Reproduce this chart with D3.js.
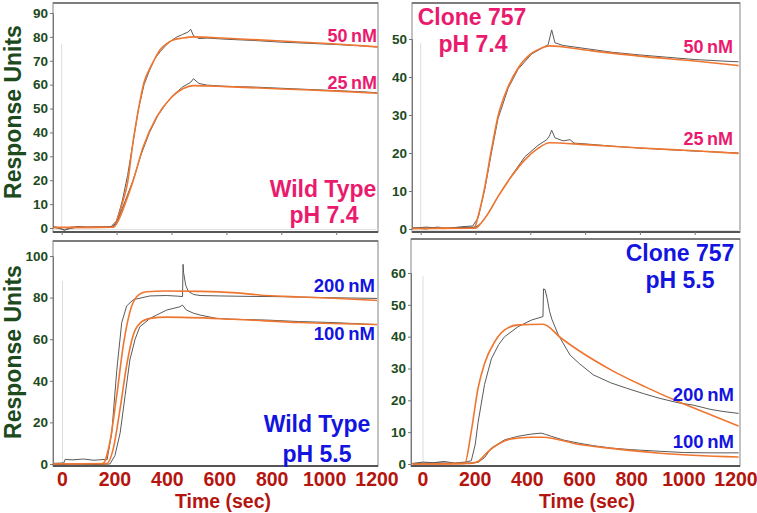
<!DOCTYPE html>
<html><head><meta charset="utf-8">
<script src="https://cdn.jsdelivr.net/npm/d3@7"></script>
<style>
html,body{margin:0;padding:0;background:#fff;}
svg{display:block;font-family:Arial,"Liberation Sans",sans-serif;}
</style></head>
<body>
<svg id="c" width="757" height="513"></svg>
<script>
// ---------- DATA ----------
// Wild Type pH 7.4 (top-left)
const tlTime50Obs = [-30,-10,10,30,60,90,120,150,180,200,220,240,260,280,300,320,340,360,380,400,420,440,460,470,480,500,530,600,700,800,900,1000,1100,1150];
const tlVal50Obs  = [0.5,0.2,-1.0,0.3,0.6,0.2,0.5,0.4,0.6,3,11,22,36,50,60,66,71,74,76.5,78.5,80,81,82,83.2,80.5,79.3,79.5,79,78.5,77.8,77.3,76.8,76.2,75.8];
const tlTime50Fit = [-30,185,200,220,240,260,285,300,322,340,358,380,406,440,480,600,800,1000,1150];
const tlVal50Fit  = [0.2,0.3,3,10,19,36,53,61,67,71,74.5,77,78.7,79.5,80,79.4,78.3,77,75.8];
const tlTime25Obs = [-30,10,60,120,180,200,230,260,290,320,350,380,410,440,470,480,500,530,600,700,800,900,1000,1100,1150];
const tlVal25Obs  = [0.4,-0.8,0.5,0.3,0.5,2,11,20,31,40,47,52,56,59,61,62.5,60.5,59.8,59.3,59,58.5,58,57.5,57,56.6];
const tlTime25Fit = [-30,189,210,240,261,297,346,394,443,480,600,800,1000,1150];
const tlVal25Fit  = [0.2,0.3,4,13,20,34,46.5,54,58.4,59.6,59.2,58.2,57.3,56.4];

// Clone 757 pH 7.4 (top-right)
const trTime50Obs = [-30,20,60,100,150,190,210,234,258,282,319,355,404,440,465,470,478,490,520,600,700,800,900,1000,1100,1160];
const trVal50Obs  = [0.3,0,0.5,0.2,0.6,0.8,3,10.5,20,29,37,42,46,47.5,48.5,50,52.4,49,48.3,47.5,46.5,45.8,45.2,44.6,44.2,44];
const trTime50Fit = [-30,195,210,234,258,282,319,355,404,440,470,600,800,1000,1160];
const trVal50Fit  = [0.2,0.3,3.5,11.1,20.8,29.6,37.4,42.3,46.2,47.6,48.2,47.1,45.5,44.2,43];
const trTime25Obs = [-30,20,80,150,200,220,246,282,331,380,428,460,470,478,490,520,545,560,600,700,800,900,1000,1100,1160];
const trVal25Obs  = [0.2,0.5,0.1,0.4,0.5,1.5,4,8.5,14,19,22,23.5,24.5,26,24,23.2,23.5,22.6,22.4,21.8,21.3,20.9,20.5,20.2,20];
const trTime25Fit = [-30,200,220,246,282,331,380,428,471,600,800,1000,1160];
const trVal25Fit  = [0.1,0.2,1.5,4.1,8.5,13.8,18.2,21.2,22.7,22.2,21.3,20.6,19.9];

// Wild Type pH 5.5 (bottom-left)
const blTime200Obs = [-36,5,10,40,80,120,160,170,188,207,226,245,270,334,397,440,458,460,462,470,480,500,525,600,700,800,900,1000,1100,1200];
const blVal200Obs  = [0.3,0.5,2.2,2,2.4,1.8,2.2,2,15,45,68,76,79,80.8,81,80.7,80.5,96,92,86,83,81.5,81,80.8,80.6,80.5,80.3,80,79.8,79.6];
const blTime200Fit = [-36,150,160,181,207,232,257,283,321,397,525,652,779,906,1033,1200];
const blVal200Fit  = [0,0,1,10.7,33,57,73,80.4,82.8,83.2,83,82.4,81,80.3,79.7,78.6];
const blTime100Obs = [-36,40,100,150,181,200,220,239,257,277,295,334,359,397,448,458,473,500,525,588,650,779,900,1033,1200];
const blVal100Obs  = [0,-0.5,-0.3,-0.2,0,4,15,33,50,60,66,70,71.6,74,75.6,76.4,74,72.5,71.6,70,69.6,69.2,68.5,68,67];
const blTime100Fit = [-36,169,194,220,245,270,295,334,397,652,906,1200];
const blVal100Fit  = [0,0.2,7.5,26.8,47.6,62,67.6,70,70.6,69.6,68,67.1];

// Clone 757 pH 5.5 (bottom-right)
const brTime200Obs = [-40,0,40,80,120,160,185,200,211,236,262,290,313,364,415,460,462,468,476,485,494,519,564,600,653,720,781,850,909,980,1036,1100,1150,1210];
const brVal200Obs  = [0.2,0.6,0.4,0.8,0.3,0.6,1,6,13,25,33,37.5,40,43.1,45.2,46.3,55,54.8,52,48,45.5,40.5,34.2,31.5,28,25.5,23.8,22,20.6,19.2,18.5,17.2,16.5,15.9];
const brTime200Fit = [-40,160,185,211,236,275,313,364,460,530,594,722,850,978,1105,1210];
const brVal200Fit  = [0,0.2,10.2,23.8,31.6,38.4,42.1,43.7,43.9,39.5,35.8,29.5,24.3,19.6,15.4,11.9];
const brTime100Obs = [-40,50,120,180,211,236,262,313,364,415,453,470,492,540,594,650,722,800,909,1000,1100,1210];
const brVal100Obs  = [0.1,0.4,0.2,0.3,0.5,2,5,7.6,8.7,9.4,9.7,9.3,8.7,7.5,6.6,5.8,5,4.5,4,3.6,3.5,3.5];
const brTime100Fit = [-40,180,211,249,288,339,415,460,594,722,909,1210];
const brVal100Fit  = [0,0.2,0.8,3.9,6.2,7.9,8.4,8.4,6.2,4.9,3.4,2.2];

const xTickLabels = ["0","200","400","600","800","1000","1200"];
const xTickValues = [0,200,400,600,800,1000,1200];
const ticksTL = [0,10,20,30,40,50,60,70,80,90];
const ticksTR = [0,10,20,30,40,50];
const ticksBL = [0,20,40,60,80,100];
const ticksBR = [0,10,20,30,40,50,60];

// ---------- DRAW ----------
const svg = d3.select("#c");
const GREEN = "#1d4a1d", RED = "#b5150f", PINK = "#ea1b6e", BLUE = "#1414e0";
const ORANGE = "#ef7630", GRAY = "#5a5a5a";

const panels = [
  {box:[53,378,3,232], yDom:[0,90], yRng:[228,13], xDom:[0,1000], xRng:[61.7,336.2], yt:ticksTL,
   series:[[tlTime50Obs,tlVal50Obs,tlTime50Fit,tlVal50Fit],[tlTime25Obs,tlVal25Obs,tlTime25Fit,tlVal25Fit]], vline:77},
  {box:[412,740,3,232], yDom:[0,50], yRng:[229,39], xDom:[0,1000], xRng:[420.7,694.7], yt:ticksTR,
   series:[[trTime50Obs,trVal50Obs,trTime50Fit,trVal50Fit],[trTime25Obs,trVal25Obs,trTime25Fit,trVal25Fit]], vline:49},
  {box:[53,378,241,466], yDom:[0,100], yRng:[464,256], xDom:[0,1200], xRng:[62.5,377], yt:ticksBL,
   series:[[blTime200Obs,blVal200Obs,blTime200Fit,blVal200Fit],[blTime100Obs,blVal100Obs,blTime100Fit,blVal100Fit]], vline:88, xlab:true},
  {box:[411,740,239,466], yDom:[0,60], yRng:[464,273], xDom:[0,1200], xRng:[423,736], yt:ticksBR,
   series:[[brTime200Obs,brVal200Obs,brTime200Fit,brVal200Fit],[brTime100Obs,brVal100Obs,brTime100Fit,brVal100Fit]], vline:59, xlab:true}
];

panels.forEach((p,i) => {
  const [L,R,T,B] = p.box;
  const x = d3.scaleLinear().domain(p.xDom).range(p.xRng);
  const y = d3.scaleLinear().domain(p.yDom).range(p.yRng);
  const g = svg.append("g");
  const cid = "clip"+i;
  svg.append("clipPath").attr("id",cid).append("rect").attr("x",L).attr("y",T).attr("width",R-L).attr("height",B-T);
  g.append("rect").attr("x",L).attr("y",T).attr("width",R-L).attr("height",B-T)
    .attr("fill","#fff").attr("stroke","#9a9a9a").attr("stroke-width",1.2);
  g.append("line").attr("x1",L).attr("x2",R).attr("y1",T).attr("y2",T).attr("stroke","#666").attr("stroke-width",1.5);
  g.append("line").attr("x1",x(0)).attr("x2",x(0)).attr("y1",y(p.vline)).attr("y2",y(0))
    .attr("stroke","#ddd").attr("stroke-width",1);
  g.append("line").attr("x1",L).attr("x2",R).attr("y1",y(0)+1.5).attr("y2",y(0)+1.5)
    .attr("stroke","#e2e2e2").attr("stroke-width",1);
  const ya = g.append("g").attr("transform",`translate(${L},0)`)
    .call(d3.axisLeft(y).tickValues(p.yt).tickSize(3).tickPadding(2).tickFormat(d3.format("d")));
  ya.select(".domain").attr("stroke","#777");
  ya.selectAll(".tick line").attr("stroke","#777");
  ya.selectAll("text").attr("fill",GREEN).attr("font-size",13.5).attr("font-weight","bold").attr("font-family","Arial, 'Liberation Sans', sans-serif");
  const xa = g.append("g").attr("transform",`translate(0,${B})`)
    .call(d3.axisBottom(x).tickValues(xTickValues.filter(v=>x(v)<=R+0.5)).tickSize(3).tickFormat(""));
  xa.select(".domain").attr("stroke","#555").attr("stroke-width",2).attr("d",`M${L},0H${R}`);
  xa.selectAll(".tick line").attr("stroke","#777");
  if (p.xlab) {
    xa.selectAll(".tick").remove();
    const lg = g.append("g");
    lg.selectAll("text").data(xTickValues).join("text")
      .attr("x",d=>x(d)).attr("y",486).attr("text-anchor","middle")
      .attr("fill",RED).attr("font-size",19.5).attr("font-weight","bold")
      .text((d,k)=>xTickLabels[k]);
  }
  const cg = g.append("g").attr("clip-path",`url(#${cid})`);
  p.series.forEach(([to,vo,tf,vf]) => {
    const lo = d3.line().x((d,k)=>x(to[k])).y((d,k)=>y(vo[k]));
    const lf = d3.line().x((d,k)=>x(tf[k])).y((d,k)=>y(vf[k])).curve(d3.curveMonotoneX);
    cg.append("path").attr("d",lo(vo)).attr("fill","none").attr("stroke",GRAY).attr("stroke-width",1);
    cg.append("path").attr("d",lf(vf)).attr("fill","none").attr("stroke",ORANGE).attr("stroke-width",1.6);
  });
});

function txt(x,y,s,opts){
  const t = svg.append("text").attr("x",x).attr("y",y).text(s)
    .attr("font-weight","bold").attr("font-size",opts.size).attr("fill",opts.fill)
    .attr("text-anchor",opts.anchor||"start");
  if (opts.rot) t.attr("transform",`rotate(-90,${x},${y})`);
  return t;
}
txt(21,112,"Response Units",{size:23,fill:GREEN,anchor:"middle",rot:true});
txt(21,352,"Response Units",{size:23,fill:GREEN,anchor:"middle",rot:true});
txt(223,508,"Time (sec)",{size:19.5,fill:RED,anchor:"middle"});
txt(587,508,"Time (sec)",{size:19.5,fill:RED,anchor:"middle"});

txt(377,42,"50\u2009nM",{size:18,fill:PINK,anchor:"end"});
txt(377,89,"25\u2009nM",{size:18,fill:PINK,anchor:"end"});
txt(733,53,"50\u2009nM",{size:18,fill:PINK,anchor:"end"});
txt(733,145,"25\u2009nM",{size:18,fill:PINK,anchor:"end"});
txt(375,292,"200\u2009nM",{size:18.5,fill:BLUE,anchor:"end"});
txt(375,340,"100\u2009nM",{size:18.5,fill:BLUE,anchor:"end"});
txt(734,401,"200\u2009nM",{size:18.5,fill:BLUE,anchor:"end"});
txt(734,448,"100\u2009nM",{size:18.5,fill:BLUE,anchor:"end"});

txt(323,197,"Wild Type",{size:23,fill:PINK,anchor:"middle"});
txt(324,223,"pH 7.4",{size:23,fill:PINK,anchor:"middle"});
txt(472,25,"Clone 757",{size:23,fill:PINK,anchor:"middle"});
txt(473,52,"pH 7.4",{size:23,fill:PINK,anchor:"middle"});
txt(317,432,"Wild Type",{size:23,fill:BLUE,anchor:"middle"});
txt(317,462,"pH 5.5",{size:23,fill:BLUE,anchor:"middle"});
txt(680,261,"Clone 757",{size:23,fill:BLUE,anchor:"middle"});
txt(680,288,"pH 5.5",{size:23,fill:BLUE,anchor:"middle"});
</script>
</body></html>
